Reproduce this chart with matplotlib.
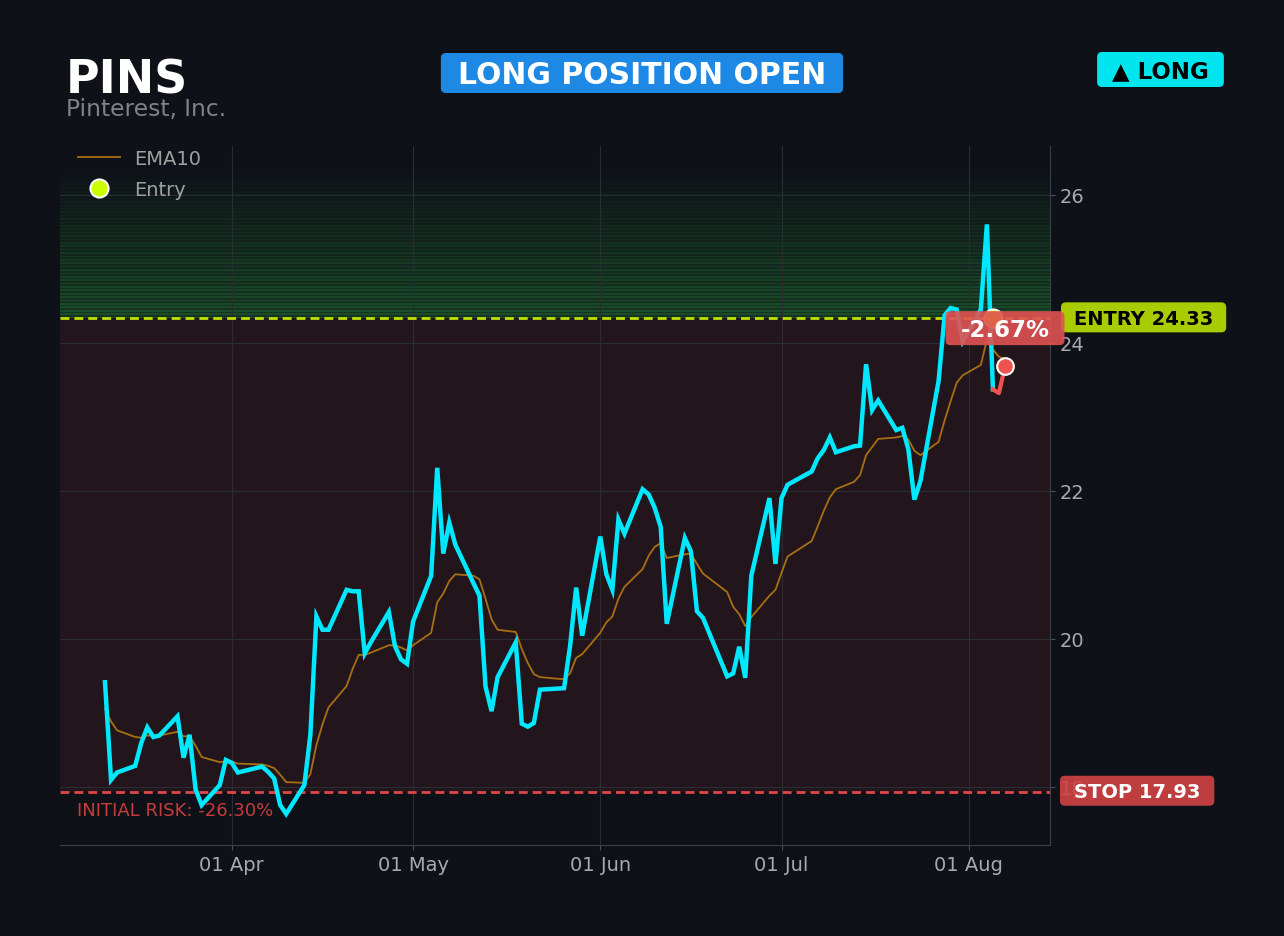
import matplotlib
matplotlib.use("Agg")
import matplotlib.pyplot as plt
import matplotlib.dates as mdates
import matplotlib.transforms as mtransforms
from matplotlib.patches import FancyBboxPatch
from matplotlib.ticker import MultipleLocator
import pandas as pd

# ---------------- data ----------------
ticker = "PINS"
company = "Pinterest, Inc."
status_text = "LONG POSITION OPEN"
side_text = "\u25B2 LONG"
entry_price = 24.33
stop_price = 17.93
entry_date = "2026-08-05"
green_zone_top = 26.35

holidays = ["2026-04-03", "2026-05-25", "2026-06-19", "2026-07-03"]
dates = pd.bdate_range("2026-03-11", "2026-08-07", freq="C", holidays=holidays)

close = [
    # Mar
    19.41, 18.09, 18.19, 18.28, 18.59, 18.80, 18.67, 18.69, 18.95, 18.39,
    18.70, 17.96, 17.75, 18.02, 18.36,
    # Apr
    18.32, 18.19, 18.27, 18.20, 18.11, 17.75, 17.63, 18.02, 18.70, 20.30,
    20.12, 20.12, 20.66, 20.64, 20.64, 19.80, 19.95, 20.36, 19.90, 19.72, 19.66,
    # May
    20.23, 20.85, 22.31, 21.15, 21.57, 21.27, 20.75, 20.58, 19.35, 19.02,
    19.48, 19.95, 18.85, 18.81, 18.86, 19.31, 19.33, 19.90, 20.69, 20.04,
    # Jun
    21.38, 20.87, 20.66, 21.61, 21.42, 22.02, 21.95, 21.77, 21.51, 20.20,
    21.36, 21.18, 20.37, 20.28, 19.49, 19.53, 19.89, 19.47, 20.85, 21.90, 21.01,
    # Jul
    21.90, 22.08, 22.26, 22.44, 22.55, 22.72, 22.52, 22.60, 22.61, 23.71,
    23.09, 23.22, 22.82, 22.85, 22.56, 21.88, 22.13, 23.48, 24.37, 24.47,
    24.45, 24.02,
    # Aug
    24.45, 25.60, 23.37, 23.32, 23.68,
]

ema10 = [
    # Mar
    19.05, 18.88, 18.76, 18.67, 18.66, 18.69, 18.69, 18.69, 18.74, 18.68,
    18.68, 18.55, 18.40, 18.33, 18.34,
    # Apr
    18.34, 18.31, 18.30, 18.28, 18.25, 18.16, 18.06, 18.05, 18.17, 18.56,
    18.84, 19.07, 19.36, 19.59, 19.78, 19.78, 19.81, 19.91, 19.91, 19.88, 19.84,
    # May
    19.91, 20.08, 20.49, 20.61, 20.78, 20.87, 20.85, 20.80, 20.54, 20.26,
    20.12, 20.09, 19.86, 19.67, 19.52, 19.48, 19.45, 19.53, 19.74, 19.79,
    # Jun
    20.08, 20.22, 20.30, 20.54, 20.70, 20.94, 21.12, 21.24, 21.29, 21.09,
    21.14, 21.15, 21.01, 20.88, 20.63, 20.43, 20.33, 20.17, 20.29, 20.58, 20.66,
    # Jul
    20.89, 21.11, 21.32, 21.52, 21.73, 21.91, 22.02, 22.12, 22.21, 22.48,
    22.59, 22.70, 22.72, 22.74, 22.69, 22.54, 22.48, 22.66, 22.95, 23.21,
    23.46, 23.56,
    # Aug
    23.70, 24.04, 23.91, 23.81, 23.78,
]

df = pd.DataFrame({"close": close, "ema10": ema10}, index=dates)
entry_ts = pd.Timestamp(entry_date)
pre = df.loc[:entry_ts]
post = df.loc[entry_ts:]
last_date = df.index[-1]
last_close = df["close"].iloc[-1]
pnl_pct = (last_close - entry_price) / entry_price * 100
risk_pct = (stop_price - entry_price) / entry_price * 100

# ---------------- style ----------------
BG = "#0e1117"
CYAN = "#00e8ff"
EMA_C = "#a86f12"
TICK_C = "#a6a9ae"
GRID_C = "#2a2d34"
ENTRY_C = "#c0e000"
STOP_C = "#e04646"

fig = plt.figure(figsize=(12.84, 9.37), dpi=100, facecolor=BG)
ax = fig.add_axes([60 / 1284, 91 / 937, 990 / 1284, 699 / 937])
ax.set_facecolor(BG)

# risk zone and profit gradient
ax.axhspan(stop_price, entry_price, color="#ef5350", alpha=0.09, lw=0, zorder=0)
n_bands = 44
bh = (green_zone_top - entry_price) / n_bands
for i in range(n_bands):
    y0 = entry_price + i * bh
    a = (1 - i / n_bands)
    ax.axhspan(y0, y0 + bh, color="#2ea043", alpha=0.25 * a, lw=0, zorder=0)
    ax.axhspan(y0, y0 + 0.5 * bh, color="#2ea043", alpha=0.25 * a, lw=0, zorder=0)

ax.grid(True, color=GRID_C, lw=0.8)
ax.set_axisbelow(True)

# lines
ema_line, = ax.plot(df.index, df["ema10"], color=EMA_C, lw=1.3, zorder=2, label="EMA10")
ax.plot(pre.index, pre["close"], color=CYAN, lw=3.2, zorder=3, solid_joinstyle="miter")
ax.plot(post.index, post["close"], color="#ef5350", lw=3.0, zorder=3)

ax.axhline(entry_price, color=ENTRY_C, lw=2.0, ls=(0, (3.2, 1.8)), zorder=2.5)
ax.axhline(stop_price, color=STOP_C, lw=2.0, ls=(0, (3.2, 1.8)), zorder=2.5)

entry_pt, = ax.plot([entry_ts], [entry_price], ls="none", marker="o", markersize=13,
                    markerfacecolor="#ccff00", markeredgecolor="white", markeredgewidth=1.5,
                    zorder=5, label="Entry")
ax.plot([last_date], [last_close], ls="none", marker="o", markersize=12,
        markerfacecolor="#ef5350", markeredgecolor="white", markeredgewidth=1.5, zorder=6)

# axes
ax.set_ylim(17.21, 26.66)
span = df.index[-1] - df.index[0]
ax.set_xlim(df.index[0] - span * 0.05, df.index[-1] + span * 0.05)
ax.xaxis.set_major_locator(mdates.MonthLocator())
ax.xaxis.set_major_formatter(mdates.DateFormatter("%d %b"))
ax.yaxis.set_major_locator(MultipleLocator(2))
ax.yaxis.tick_right()
ax.tick_params(axis="both", colors="#4a4f58", labelcolor=TICK_C, labelsize=14)
for s in ["top", "left"]:
    ax.spines[s].set_visible(False)
for s in ["right", "bottom"]:
    ax.spines[s].set_color("#3b3f47")

leg = ax.legend(handles=[ema_line, entry_pt], loc="upper left", frameon=False, fontsize=14,
                labelcolor="#a0a0a0", borderaxespad=0.5, borderpad=0.43,
                bbox_to_anchor=(0, 1 + 15 / 699), handlelength=2.15,
                handletextpad=0.75, labelspacing=0.6)

blend = mtransforms.blended_transform_factory(ax.transAxes, ax.transData)
t_entry = ax.text(1.0242, entry_price, f"ENTRY {entry_price:.2f}", transform=blend,
                  ha="left", va="center", fontsize=14, fontweight="bold", color="black",
                  zorder=8, clip_on=False)
t_stop = ax.text(1.0242, stop_price, f"STOP {stop_price:.2f}", transform=blend,
                 ha="left", va="center", fontsize=14, fontweight="bold", color="white",
                 zorder=8, clip_on=False)
t_risk = ax.annotate(f"INITIAL RISK: {risk_pct:.2f}%", xy=(0.0172, stop_price), xycoords=blend,
                     xytext=(0, -16.8), textcoords="offset points", ha="left", va="baseline",
                     fontsize=13, color="#c43c3c", zorder=8)
t_pnl = ax.annotate(f"{pnl_pct:.2f}%", xy=(last_date, last_close), xytext=(0, 21.8),
                    textcoords="offset points", ha="center", va="baseline", fontsize=16.5,
                    fontweight="bold", color="white", zorder=8)

# header
fig.text(66 / 1284, 1 - 93 / 937, ticker, fontsize=33, fontweight="bold", color="white",
         ha="left", va="baseline")
fig.text(66 / 1284, 1 - 116 / 937, company, fontsize=16.8, color="#7f8287",
         ha="left", va="baseline")
t_status = fig.text(0.5, 1 - 84 / 937, status_text, fontsize=21.5, fontweight="bold",
                    color="white", ha="center", va="baseline", zorder=5)
t_side = fig.text(1160.5 / 1284, 1 - 78.5 / 937, side_text, fontsize=16.5, fontweight="bold",
                  color="black", ha="center", va="baseline", zorder=5)

# badges drawn behind texts, sized from the rendered text
fig.canvas.draw()
renderer = fig.canvas.get_renderer()


def badge(t, parent, fc, padx, pady, alpha=1.0, dy=0.0):
    bb = t.get_window_extent(renderer)
    p = FancyBboxPatch((bb.x0 - padx, bb.y0 - pady + dy), bb.width + 2 * padx,
                       bb.height + 2 * pady, boxstyle="round,pad=0,rounding_size=5",
                       fc=fc, ec="none", alpha=alpha, transform=mtransforms.IdentityTransform(),
                       zorder=t.get_zorder() - 0.1, clip_on=False)
    parent.add_artist(p)


badge(t_entry, ax, "#a8cc00", 13, 5.5, dy=1.0)
badge(t_stop, ax, "#d24444", 14, 5.5, alpha=0.9, dy=1.0)
badge(t_pnl, ax, "#e05252", 15, 5.5, alpha=0.9, dy=1.5)
badge(t_status, fig, "#1e88e5", 17, 5.5, dy=1.5)
badge(t_side, fig, "#00e5ee", 15, 6, dy=1.5)

fig.savefig("out.png", dpi=100, facecolor=BG)
